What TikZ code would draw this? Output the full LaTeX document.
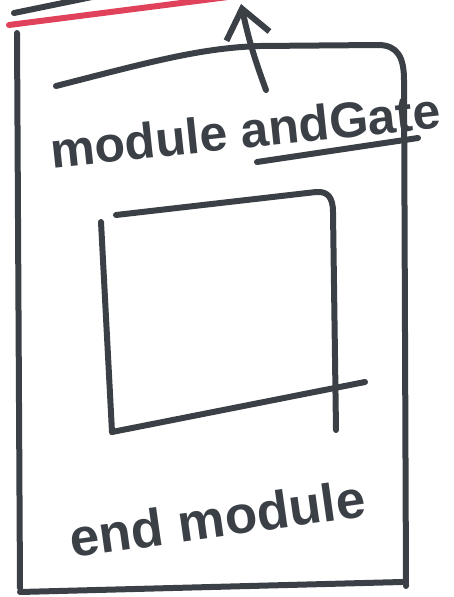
\documentclass[tikz,border=0pt]{standalone}
\usepackage{fontspec}
\setmainfont{Liberation Sans}
\usetikzlibrary{arrows.meta, positioning}
\definecolor{marker}{HTML}{3B4047}
\definecolor{redmarker}{HTML}{E0425C}

\begin{document}
\begin{tikzpicture}[x=1pt, y=-1pt,
    pen/.style={draw=marker, line width=6pt, line cap=round, line join=round},
    redpen/.style={draw=redmarker, line width=6pt, line cap=round},
    scribble/.style={text=marker, font=\bfseries\fontsize{50}{50}\selectfont, inner sep=0pt}
  ]
  \useasboundingbox (0,0) rectangle (454,597);
  \clip (0,0) rectangle (454,597);

  % lines above the module
  \draw[pen] (14,13) -- (92,-3);
  \draw[redpen] (9,25) -- (228,-3);

  % outer module box
  \draw[pen] (17,33) -- (20,588);
  \draw[pen] (56,86) .. controls (150,62) and (200,48) .. (260,46)
    -- (378,45) .. controls (398,45) and (404,58) .. (404,80) -- (406,586);
  \draw[pen] (20,592) -- (402,582);

  % labels
  \node[scribble, rotate=6, anchor=base] (title) at (247,148) {module andGate};
  \node[scribble, rotate=8, anchor=base, font=\bfseries\fontsize{53}{53}\selectfont] (endlabel) at (220,537) {end module};
  \draw[pen] (257,162) -- (418,138);

  % arrow out of the module
  \coordinate (arrowfoot) at (266,90);
  \coordinate (arrowtip) at (241,4);
  \draw[pen, -{Straight Barb[length=28pt, width=44pt]}] (arrowfoot) to[bend left=4] (arrowtip);

  % inner box
  \draw[pen] (101,222) -- (112,432);
  \draw[pen] (116,215) -- (316,192) .. controls (328,191) and (333,198) .. (333,212) -- (336,430);
  \draw[pen] (112,432) -- (365,382);
\end{tikzpicture}
\end{document}
